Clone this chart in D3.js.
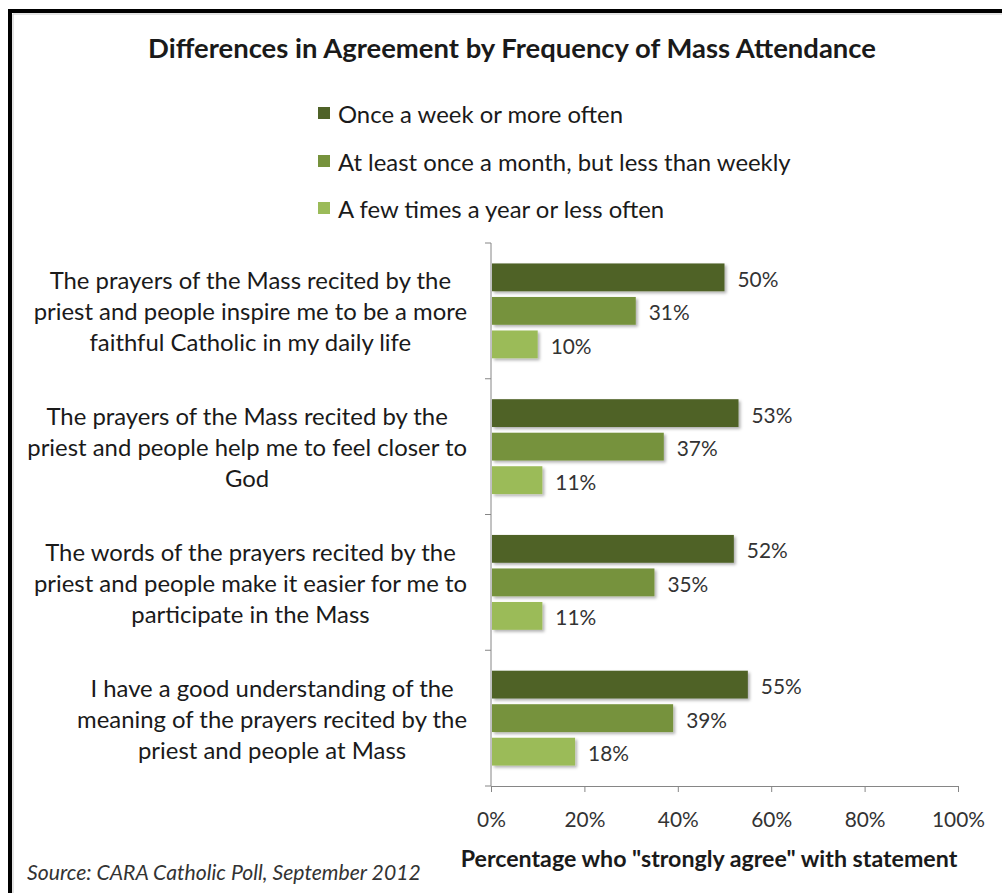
<!DOCTYPE html>
<html>
<head>
<meta charset="utf-8">
<script src="https://cdn.jsdelivr.net/npm/d3@7"></script>
<style>
  html, body { margin: 0; padding: 0; background: #fff; }
  svg { display: block; }
  text { font-family: Lato, "Open Sans", sans-serif; }
</style>
</head>
<body>
<div id="chart"></div>
<script>
const categories = [
  ["The prayers of the Mass recited by the", "priest and people inspire me to be a more", "faithful Catholic in my daily life"],
  ["The prayers of the Mass recited by the", "priest and people help me to feel closer to", "God"],
  ["The words of the prayers recited by the", "priest and people make it easier for me to", "participate in the Mass"],
  ["I have a good understanding of the", "meaning of the prayers recited by the", "priest and people at Mass"]
];
const seriesNames = [
  "Once a week or more often",
  "At least once a month, but less than weekly",
  "A few times a year or less often"
];
const weekly = [50, 53, 52, 55];
const monthly = [31, 37, 35, 39];
const yearly = [10, 11, 11, 18];
const xTicks = [0, 20, 40, 60, 80, 100];
const colors = ["#4f6228", "#76923c", "#9bbb59"];

const W = 1002, H = 893;
const svg = d3.select("#chart").append("svg").attr("width", W).attr("height", H);

const defs = svg.append("defs");
const f = defs.append("filter").attr("id", "shadow").attr("x", "-5%").attr("y", "-20%").attr("width", "115%").attr("height", "160%");
f.append("feDropShadow").attr("dx", 2).attr("dy", 2).attr("stdDeviation", 1.5)
  .attr("flood-color", "#000").attr("flood-opacity", 0.3);

// frame
svg.append("path").attr("d", `M10,${H + 5} V11 H${W + 5}`)
  .attr("fill", "none").attr("stroke", "#000").attr("stroke-width", 4);
svg.append("path").attr("d", `M13,${H + 5} V14 H${W + 5}`)
  .attr("fill", "none").attr("stroke", "#c8c8c8").attr("stroke-width", 1);

// fit font size so a reference text has a target width
function fit(sel, target) {
  const w = sel.node().getComputedTextLength();
  const fs = parseFloat(sel.attr("font-size"));
  const nfs = fs * target / w;
  sel.attr("font-size", nfs);
  return nfs;
}

svg.append("text").attr("x", 512).attr("y", 47).attr("text-anchor", "middle")
  .attr("dominant-baseline", "central").attr("font-weight", "bold").attr("font-size", 24)
  .attr("fill", "#1a1a1a")
  .text("Differences in Agreement by Frequency of Mass Attendance")
  .call(s => fit(s, 728));

// legend
const legY = [113, 161, 208];
const leg = svg.append("g");
const legText = leg.selectAll("text").data(seriesNames).join("text")
  .attr("x", 338).attr("y", (d, i) => legY[i]).attr("dominant-baseline", "central")
  .attr("font-size", 21).attr("fill", "#1a1a1a").text(d => d);
const legFs = fit(legText.filter((d, i) => i === 1), 453);
legText.attr("font-size", legFs);
leg.selectAll("rect").data(seriesNames).join("rect")
  .attr("x", 318).attr("y", (d, i) => legY[i] - 6).attr("width", 12).attr("height", 12)
  .attr("fill", (d, i) => colors[i]);

// scales
const x = d3.scaleLinear().domain([0, 100]).range([491, 958]);
const y0 = d3.scaleBand().domain(d3.range(categories.length)).range([243, 786]);
const y1 = d3.scaleBand().domain(d3.range(3)).range([0, y0.bandwidth()])
  .paddingInner(0.17).paddingOuter(0.61);

const series = [weekly, monthly, yearly];
const rows = categories.map((c, i) => series.map((s, j) => ({ cat: i, s: j, v: s[i] })));

const axisColor = "#868686";

// axes
const xAxis = svg.append("g").attr("transform", "translate(0,786)")
  .call(d3.axisBottom(x).tickValues(xTicks).tickFormat(d => d + "%").tickSize(6).tickPadding(20));
xAxis.select(".domain").attr("stroke", axisColor).attr("d", `M${x(0)},0.5H${x(100)}`);
xAxis.selectAll(".tick line").attr("stroke", axisColor);
const tickText = xAxis.selectAll(".tick text").attr("font-size", 21).attr("fill", "#333")
  .attr("font-family", "Lato, 'Open Sans', sans-serif");
const tfs = fit(tickText.filter(d => d === 100), 53);
tickText.attr("font-size", tfs);

const bounds = d3.range(categories.length + 1).map(i => 243 + i * y0.step());
const yAxis = svg.append("g");
yAxis.append("line").attr("x1", x(0)).attr("x2", x(0)).attr("y1", 243).attr("y2", 786)
  .attr("stroke", axisColor);
yAxis.selectAll("line.tk").data(bounds).join("line").attr("class", "tk")
  .attr("x1", x(0) - 6).attr("x2", x(0)).attr("y1", d => d).attr("y2", d => d)
  .attr("stroke", axisColor);

// bars
const g = svg.append("g");
const grp = g.selectAll("g").data(rows).join("g")
  .attr("transform", (d, i) => `translate(0,${y0(i)})`);
grp.selectAll("rect").data(d => d).join("rect")
  .attr("x", x(0) + 1).attr("y", d => y1(d.s)).attr("height", y1.bandwidth())
  .attr("width", d => x(d.v) - x(0) - 1).attr("fill", d => colors[d.s])
  .attr("filter", "url(#shadow)");
const valText = grp.selectAll("text").data(d => d).join("text")
  .attr("x", d => x(d.v) + 13).attr("y", d => y1(d.s) + y1.bandwidth() / 2 + 1)
  .attr("dominant-baseline", "central").attr("font-size", 21).attr("fill", "#333")
  .text(d => d.v + "%");
valText.attr("font-size", tfs);

// category labels: block right aligned, lines centered
const catG = svg.append("g");
categories.forEach((lines, i) => {
  const cy = y0(i) + y0.bandwidth() / 2;
  const t = catG.append("g");
  const ts = t.selectAll("text").data(lines).join("text")
    .attr("y", (d, k) => cy + (k - 1) * 31).attr("dominant-baseline", "central")
    .attr("text-anchor", "middle").attr("font-size", legFs).attr("fill", "#1a1a1a").text(d => d);
  const maxW = d3.max(ts.nodes(), n => n.getComputedTextLength());
  ts.attr("x", 467 - maxW / 2);
});

// axis title
svg.append("text").attr("x", 709).attr("y", 858).attr("text-anchor", "middle")
  .attr("dominant-baseline", "central").attr("font-weight", "bold").attr("font-size", 20)
  .attr("fill", "#1a1a1a")
  .text('Percentage who "strongly agree" with statement')
  .call(s => fit(s, 497));

// source
svg.append("text").attr("x", 27).attr("y", 872).attr("dominant-baseline", "central")
  .attr("font-style", "italic").attr("font-size", 20).attr("fill", "#333")
  .text("Source: CARA Catholic Poll, September 2012")
  .call(s => fit(s, 394));
</script>
</body>
</html>
